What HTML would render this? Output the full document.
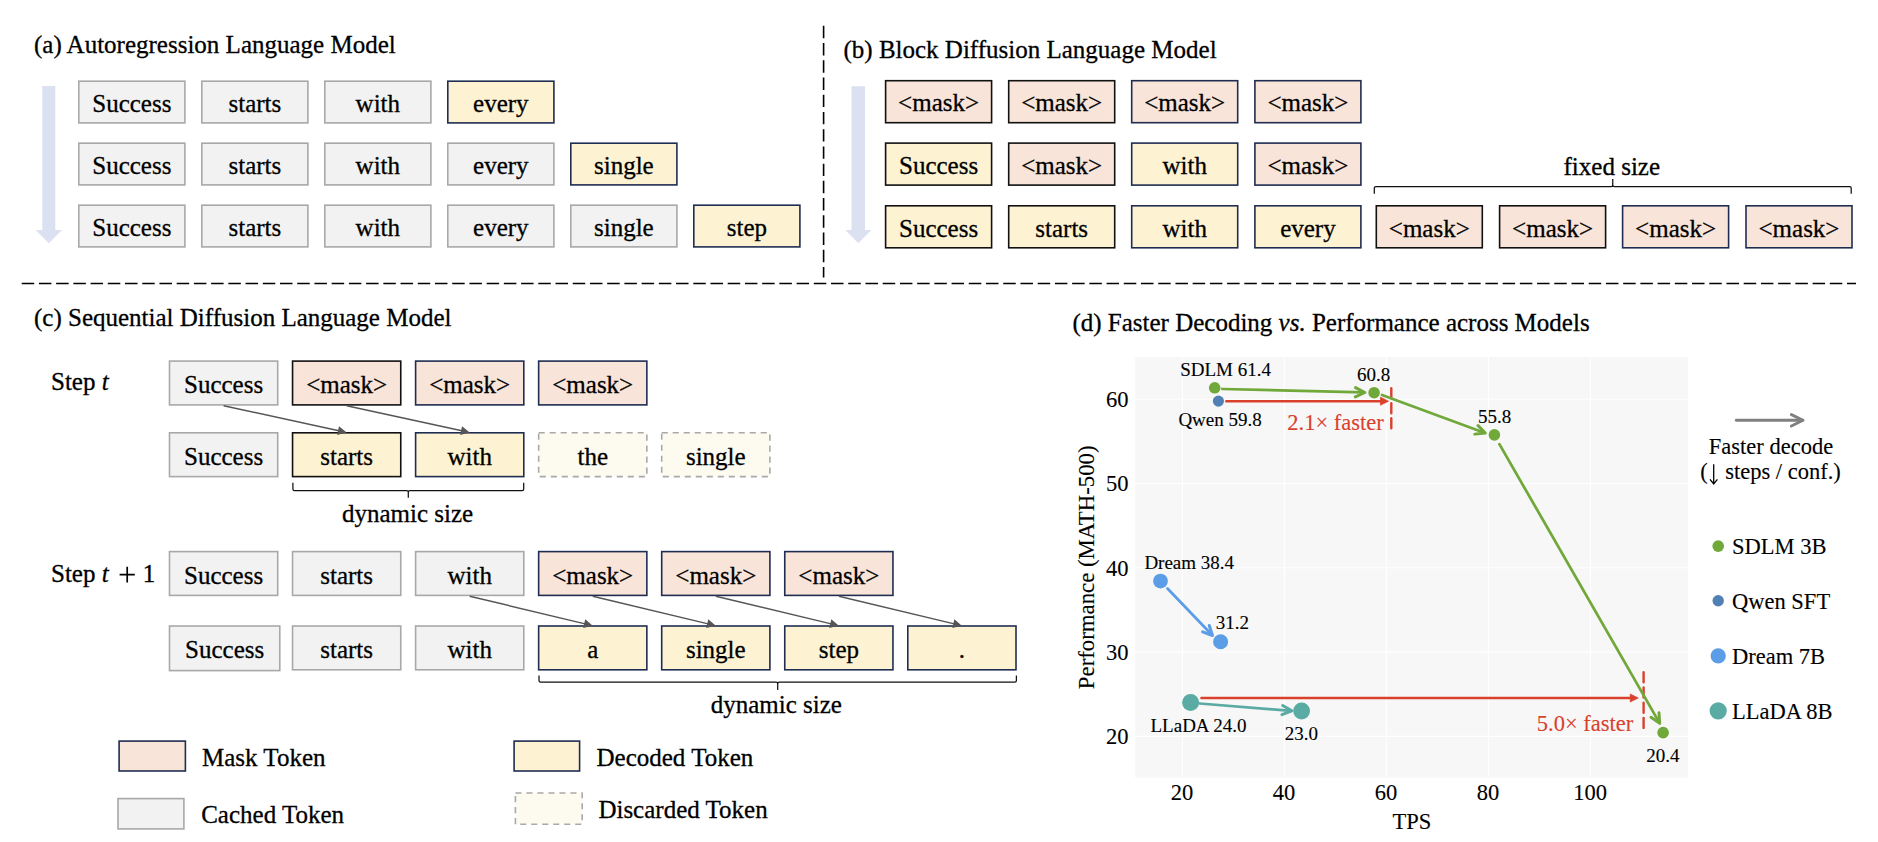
<!DOCTYPE html>
<html><head><meta charset="utf-8"><style>
html,body{margin:0;padding:0;background:#fff;}
body{width:1878px;height:842px;overflow:hidden;font-family:"Liberation Serif", serif;}
svg{display:block;}
</style></head><body>
<svg width="1878" height="842" viewBox="0 0 1878 842" font-family='"Liberation Serif", serif'><text x="34.00" y="53.30" font-size="25" text-anchor="start" fill="#000" stroke="#000" stroke-width="0.3">(a) Autoregression Language Model</text>
<path d="M42.3,86 L55.3,86 L55.3,230 L62,230 L48.85,243.3 L35.7,230 L42.3,230 Z" fill="#dce1f2"/>
<rect x="78.80" y="81.20" width="106.10" height="41.70" fill="#f2f2f2" stroke="#a8a8a8" stroke-width="1.6"/>
<text x="131.85" y="112.35" font-size="25" text-anchor="middle" stroke="#000" stroke-width="0.3">Success</text>
<rect x="201.80" y="81.20" width="106.10" height="41.70" fill="#f2f2f2" stroke="#a8a8a8" stroke-width="1.6"/>
<text x="254.85" y="112.35" font-size="25" text-anchor="middle" stroke="#000" stroke-width="0.3">starts</text>
<rect x="324.80" y="81.20" width="106.10" height="41.70" fill="#f2f2f2" stroke="#a8a8a8" stroke-width="1.6"/>
<text x="377.85" y="112.35" font-size="25" text-anchor="middle" stroke="#000" stroke-width="0.3">with</text>
<rect x="447.80" y="81.20" width="106.10" height="41.70" fill="#fdf2d1" stroke="#1f2d52" stroke-width="1.6"/>
<text x="500.85" y="112.35" font-size="25" text-anchor="middle" stroke="#000" stroke-width="0.3">every</text>
<rect x="78.80" y="143.20" width="106.10" height="41.70" fill="#f2f2f2" stroke="#a8a8a8" stroke-width="1.6"/>
<text x="131.85" y="174.35" font-size="25" text-anchor="middle" stroke="#000" stroke-width="0.3">Success</text>
<rect x="201.80" y="143.20" width="106.10" height="41.70" fill="#f2f2f2" stroke="#a8a8a8" stroke-width="1.6"/>
<text x="254.85" y="174.35" font-size="25" text-anchor="middle" stroke="#000" stroke-width="0.3">starts</text>
<rect x="324.80" y="143.20" width="106.10" height="41.70" fill="#f2f2f2" stroke="#a8a8a8" stroke-width="1.6"/>
<text x="377.85" y="174.35" font-size="25" text-anchor="middle" stroke="#000" stroke-width="0.3">with</text>
<rect x="447.80" y="143.20" width="106.10" height="41.70" fill="#f2f2f2" stroke="#a8a8a8" stroke-width="1.6"/>
<text x="500.85" y="174.35" font-size="25" text-anchor="middle" stroke="#000" stroke-width="0.3">every</text>
<rect x="570.80" y="143.20" width="106.10" height="41.70" fill="#fdf2d1" stroke="#1f2d52" stroke-width="1.6"/>
<text x="623.85" y="174.35" font-size="25" text-anchor="middle" stroke="#000" stroke-width="0.3">single</text>
<rect x="78.80" y="205.20" width="106.10" height="41.70" fill="#f2f2f2" stroke="#a8a8a8" stroke-width="1.6"/>
<text x="131.85" y="236.35" font-size="25" text-anchor="middle" stroke="#000" stroke-width="0.3">Success</text>
<rect x="201.80" y="205.20" width="106.10" height="41.70" fill="#f2f2f2" stroke="#a8a8a8" stroke-width="1.6"/>
<text x="254.85" y="236.35" font-size="25" text-anchor="middle" stroke="#000" stroke-width="0.3">starts</text>
<rect x="324.80" y="205.20" width="106.10" height="41.70" fill="#f2f2f2" stroke="#a8a8a8" stroke-width="1.6"/>
<text x="377.85" y="236.35" font-size="25" text-anchor="middle" stroke="#000" stroke-width="0.3">with</text>
<rect x="447.80" y="205.20" width="106.10" height="41.70" fill="#f2f2f2" stroke="#a8a8a8" stroke-width="1.6"/>
<text x="500.85" y="236.35" font-size="25" text-anchor="middle" stroke="#000" stroke-width="0.3">every</text>
<rect x="570.80" y="205.20" width="106.10" height="41.70" fill="#f2f2f2" stroke="#a8a8a8" stroke-width="1.6"/>
<text x="623.85" y="236.35" font-size="25" text-anchor="middle" stroke="#000" stroke-width="0.3">single</text>
<rect x="693.80" y="205.20" width="106.10" height="41.70" fill="#fdf2d1" stroke="#1f2d52" stroke-width="1.6"/>
<text x="746.85" y="236.35" font-size="25" text-anchor="middle" stroke="#000" stroke-width="0.3">step</text>
<text x="843.50" y="58.10" font-size="25" text-anchor="start" fill="#000" stroke="#000" stroke-width="0.3">(b) Block Diffusion Language Model</text>
<path d="M851.5,86.3 L865,86.3 L865,230 L871.3,230 L858.3,243.3 L845.3,230 L851.5,230 Z" fill="#dce1f2"/>
<rect x="885.60" y="80.70" width="106.00" height="42.00" fill="#f8e4d8" stroke="#111111" stroke-width="1.6"/>
<text x="938.60" y="110.70" font-size="25" text-anchor="middle" stroke="#000" stroke-width="0.3">&lt;mask&gt;</text>
<rect x="1008.70" y="80.70" width="106.00" height="42.00" fill="#f8e4d8" stroke="#111111" stroke-width="1.6"/>
<text x="1061.70" y="110.70" font-size="25" text-anchor="middle" stroke="#000" stroke-width="0.3">&lt;mask&gt;</text>
<rect x="1131.70" y="80.70" width="106.00" height="42.00" fill="#f8e4d8" stroke="#1f2d52" stroke-width="1.6"/>
<text x="1184.70" y="110.70" font-size="25" text-anchor="middle" stroke="#000" stroke-width="0.3">&lt;mask&gt;</text>
<rect x="1254.90" y="80.70" width="106.00" height="42.00" fill="#f8e4d8" stroke="#1f2d52" stroke-width="1.6"/>
<text x="1307.90" y="110.70" font-size="25" text-anchor="middle" stroke="#000" stroke-width="0.3">&lt;mask&gt;</text>
<rect x="885.60" y="143.10" width="106.00" height="42.00" fill="#fdf2d1" stroke="#111111" stroke-width="1.6"/>
<text x="938.60" y="174.10" font-size="25" text-anchor="middle" stroke="#000" stroke-width="0.3">Success</text>
<rect x="1008.70" y="143.10" width="106.00" height="42.00" fill="#f8e4d8" stroke="#111111" stroke-width="1.6"/>
<text x="1061.70" y="174.10" font-size="25" text-anchor="middle" stroke="#000" stroke-width="0.3">&lt;mask&gt;</text>
<rect x="1131.70" y="143.10" width="106.00" height="42.00" fill="#fdf2d1" stroke="#1f2d52" stroke-width="1.6"/>
<text x="1184.70" y="174.10" font-size="25" text-anchor="middle" stroke="#000" stroke-width="0.3">with</text>
<rect x="1254.90" y="143.10" width="106.00" height="42.00" fill="#f8e4d8" stroke="#1f2d52" stroke-width="1.6"/>
<text x="1307.90" y="174.10" font-size="25" text-anchor="middle" stroke="#000" stroke-width="0.3">&lt;mask&gt;</text>
<rect x="885.60" y="205.80" width="106.00" height="42.00" fill="#fdf2d1" stroke="#111111" stroke-width="1.6"/>
<text x="938.60" y="236.80" font-size="25" text-anchor="middle" stroke="#000" stroke-width="0.3">Success</text>
<rect x="1008.70" y="205.80" width="106.00" height="42.00" fill="#fdf2d1" stroke="#111111" stroke-width="1.6"/>
<text x="1061.70" y="236.80" font-size="25" text-anchor="middle" stroke="#000" stroke-width="0.3">starts</text>
<rect x="1131.70" y="205.80" width="106.00" height="42.00" fill="#fdf2d1" stroke="#1f2d52" stroke-width="1.6"/>
<text x="1184.70" y="236.80" font-size="25" text-anchor="middle" stroke="#000" stroke-width="0.3">with</text>
<rect x="1254.90" y="205.80" width="106.00" height="42.00" fill="#fdf2d1" stroke="#1f2d52" stroke-width="1.6"/>
<text x="1307.90" y="236.80" font-size="25" text-anchor="middle" stroke="#000" stroke-width="0.3">every</text>
<rect x="1376.30" y="205.80" width="106.00" height="42.00" fill="#f8e4d8" stroke="#111111" stroke-width="1.6"/>
<text x="1429.30" y="236.80" font-size="25" text-anchor="middle" stroke="#000" stroke-width="0.3">&lt;mask&gt;</text>
<rect x="1499.60" y="205.80" width="106.00" height="42.00" fill="#f8e4d8" stroke="#111111" stroke-width="1.6"/>
<text x="1552.60" y="236.80" font-size="25" text-anchor="middle" stroke="#000" stroke-width="0.3">&lt;mask&gt;</text>
<rect x="1622.60" y="205.80" width="106.00" height="42.00" fill="#f8e4d8" stroke="#1f2d52" stroke-width="1.6"/>
<text x="1675.60" y="236.80" font-size="25" text-anchor="middle" stroke="#000" stroke-width="0.3">&lt;mask&gt;</text>
<rect x="1746.00" y="205.80" width="106.00" height="42.00" fill="#f8e4d8" stroke="#1f2d52" stroke-width="1.6"/>
<text x="1799.00" y="236.80" font-size="25" text-anchor="middle" stroke="#000" stroke-width="0.3">&lt;mask&gt;</text>
<path d="M1374.3,193.7 L1374.3,188.1 Q1374.3,186.5 1375.8999999999999,186.5 L1611.15,186.5 Q1612.75,186.5 1612.75,184.9 L1612.75,179 M1612.75,184.9 Q1612.75,186.5 1614.35,186.5 L1849.6000000000001,186.5 Q1851.2,186.5 1851.2,188.1 L1851.2,193.7" fill="none" stroke="#111" stroke-width="1.25"/>
<text x="1611.80" y="175.10" font-size="25" text-anchor="middle" fill="#000" stroke="#000" stroke-width="0.3">fixed size</text>
<line x1="823.6" y1="25.8" x2="823.6" y2="277.6" stroke="#000" stroke-width="1.6" stroke-dasharray="12.4 4.83"/>
<line x1="21.7" y1="283.5" x2="1856" y2="283.5" stroke="#000" stroke-width="1.7" stroke-dasharray="12.5 4.72"/>
<text x="34.00" y="325.90" font-size="25" text-anchor="start" fill="#000" stroke="#000" stroke-width="0.3">(c) Sequential Diffusion Language Model</text>
<text x="51.00" y="390.20" font-size="25" text-anchor="start" fill="#000" stroke="#000" stroke-width="0.3">Step <tspan font-style="italic">t</tspan></text>
<text x="51.00" y="582.20" font-size="25" text-anchor="start" fill="#000" stroke="#000" stroke-width="0.3">Step <tspan font-style="italic">t</tspan></text>
<path d="M119.6,574.7 L134.8,574.7 M127.2,566.8 L127.2,582.6" stroke="#000" stroke-width="1.7"/>
<text x="149.00" y="582.20" font-size="25" text-anchor="middle" fill="#000" stroke="#000" stroke-width="0.3">1</text>
<rect x="169.50" y="361.10" width="108.20" height="43.80" fill="#f2f2f2" stroke="#a8a8a8" stroke-width="1.6"/>
<text x="223.60" y="393.00" font-size="25" text-anchor="middle" stroke="#000" stroke-width="0.3">Success</text>
<rect x="292.55" y="361.10" width="108.20" height="43.80" fill="#f8e4d8" stroke="#111111" stroke-width="1.6"/>
<text x="346.65" y="393.00" font-size="25" text-anchor="middle" stroke="#000" stroke-width="0.3">&lt;mask&gt;</text>
<rect x="415.60" y="361.10" width="108.20" height="43.80" fill="#f8e4d8" stroke="#1f2d52" stroke-width="1.6"/>
<text x="469.70" y="393.00" font-size="25" text-anchor="middle" stroke="#000" stroke-width="0.3">&lt;mask&gt;</text>
<rect x="538.65" y="361.10" width="108.20" height="43.80" fill="#f8e4d8" stroke="#1f2d52" stroke-width="1.6"/>
<text x="592.75" y="393.00" font-size="25" text-anchor="middle" stroke="#000" stroke-width="0.3">&lt;mask&gt;</text>
<rect x="169.50" y="432.80" width="108.20" height="43.80" fill="#f2f2f2" stroke="#a8a8a8" stroke-width="1.6"/>
<text x="223.60" y="464.70" font-size="25" text-anchor="middle" stroke="#000" stroke-width="0.3">Success</text>
<rect x="292.55" y="432.80" width="108.20" height="43.80" fill="#fdf2d1" stroke="#111111" stroke-width="1.6"/>
<text x="346.65" y="464.70" font-size="25" text-anchor="middle" stroke="#000" stroke-width="0.3">starts</text>
<rect x="415.60" y="432.80" width="108.20" height="43.80" fill="#fdf2d1" stroke="#1f2d52" stroke-width="1.6"/>
<text x="469.70" y="464.70" font-size="25" text-anchor="middle" stroke="#000" stroke-width="0.3">with</text>
<rect x="538.65" y="432.80" width="108.20" height="43.80" fill="#fdfaef" stroke="#a9a9a9" stroke-width="1.6" stroke-dasharray="6.1 4.9"/>
<text x="592.75" y="464.70" font-size="25" text-anchor="middle" stroke="#000" stroke-width="0.3">the</text>
<rect x="661.70" y="432.80" width="108.20" height="43.80" fill="#fdfaef" stroke="#a9a9a9" stroke-width="1.6" stroke-dasharray="6.1 4.9"/>
<text x="715.80" y="464.70" font-size="25" text-anchor="middle" stroke="#000" stroke-width="0.3">single</text>
<rect x="169.50" y="551.60" width="108.20" height="43.80" fill="#f2f2f2" stroke="#a8a8a8" stroke-width="1.6"/>
<text x="223.60" y="583.50" font-size="25" text-anchor="middle" stroke="#000" stroke-width="0.3">Success</text>
<rect x="292.55" y="551.60" width="108.20" height="43.80" fill="#f2f2f2" stroke="#a8a8a8" stroke-width="1.6"/>
<text x="346.65" y="583.50" font-size="25" text-anchor="middle" stroke="#000" stroke-width="0.3">starts</text>
<rect x="415.60" y="551.60" width="108.20" height="43.80" fill="#f2f2f2" stroke="#a8a8a8" stroke-width="1.6"/>
<text x="469.70" y="583.50" font-size="25" text-anchor="middle" stroke="#000" stroke-width="0.3">with</text>
<rect x="538.65" y="551.60" width="108.20" height="43.80" fill="#f8e4d8" stroke="#1f2d52" stroke-width="1.6"/>
<text x="592.75" y="583.50" font-size="25" text-anchor="middle" stroke="#000" stroke-width="0.3">&lt;mask&gt;</text>
<rect x="661.70" y="551.60" width="108.20" height="43.80" fill="#f8e4d8" stroke="#1f2d52" stroke-width="1.6"/>
<text x="715.80" y="583.50" font-size="25" text-anchor="middle" stroke="#000" stroke-width="0.3">&lt;mask&gt;</text>
<rect x="784.75" y="551.60" width="108.20" height="43.80" fill="#f8e4d8" stroke="#1f2d52" stroke-width="1.6"/>
<text x="838.85" y="583.50" font-size="25" text-anchor="middle" stroke="#000" stroke-width="0.3">&lt;mask&gt;</text>
<rect x="169.50" y="626.00" width="110.30" height="44.60" fill="#f2f2f2" stroke="#a8a8a8" stroke-width="1.6"/>
<text x="224.65" y="658.30" font-size="25" text-anchor="middle" stroke="#000" stroke-width="0.3">Success</text>
<rect x="292.55" y="626.00" width="108.20" height="43.80" fill="#f2f2f2" stroke="#a8a8a8" stroke-width="1.6"/>
<text x="346.65" y="657.90" font-size="25" text-anchor="middle" stroke="#000" stroke-width="0.3">starts</text>
<rect x="415.60" y="626.00" width="108.20" height="43.80" fill="#f2f2f2" stroke="#a8a8a8" stroke-width="1.6"/>
<text x="469.70" y="657.90" font-size="25" text-anchor="middle" stroke="#000" stroke-width="0.3">with</text>
<rect x="538.65" y="626.00" width="108.20" height="43.80" fill="#fdf2d1" stroke="#1f2d52" stroke-width="1.6"/>
<text x="592.75" y="657.90" font-size="25" text-anchor="middle" stroke="#000" stroke-width="0.3">a</text>
<rect x="661.70" y="626.00" width="108.20" height="43.80" fill="#fdf2d1" stroke="#1f2d52" stroke-width="1.6"/>
<text x="715.80" y="657.90" font-size="25" text-anchor="middle" stroke="#000" stroke-width="0.3">single</text>
<rect x="784.75" y="626.00" width="108.20" height="43.80" fill="#fdf2d1" stroke="#1f2d52" stroke-width="1.6"/>
<text x="838.85" y="657.90" font-size="25" text-anchor="middle" stroke="#000" stroke-width="0.3">step</text>
<rect x="907.80" y="626.00" width="108.20" height="43.80" fill="#fdf2d1" stroke="#1f2d52" stroke-width="1.6"/>
<text x="961.90" y="657.90" font-size="25" text-anchor="middle" stroke="#000" stroke-width="0.3">.</text>
<line x1="223.60" y1="405.70" x2="340.01" y2="431.05" stroke="#555" stroke-width="1.45"/>
<path d="M346.65,432.50 L337.12,434.93 L338.99,426.33 Z" fill="#555"/>
<line x1="346.65" y1="405.70" x2="463.06" y2="431.05" stroke="#555" stroke-width="1.45"/>
<path d="M469.70,432.50 L460.17,434.93 L462.04,426.33 Z" fill="#555"/>
<line x1="469.70" y1="596.20" x2="586.14" y2="624.11" stroke="#555" stroke-width="1.45"/>
<path d="M592.75,625.70 L583.17,627.93 L585.22,619.37 Z" fill="#555"/>
<line x1="592.75" y1="596.20" x2="709.19" y2="624.11" stroke="#555" stroke-width="1.45"/>
<path d="M715.80,625.70 L706.22,627.93 L708.27,619.37 Z" fill="#555"/>
<line x1="715.80" y1="596.20" x2="832.24" y2="624.11" stroke="#555" stroke-width="1.45"/>
<path d="M838.85,625.70 L829.27,627.93 L831.32,619.37 Z" fill="#555"/>
<line x1="838.85" y1="596.20" x2="955.29" y2="624.11" stroke="#555" stroke-width="1.45"/>
<path d="M961.90,625.70 L952.32,627.93 L954.37,619.37 Z" fill="#555"/>
<path d="M292.9,482.7 L292.9,488.9 Q292.9,490.5 294.5,490.5 L406.7,490.5 Q408.3,490.5 408.3,492.1 L408.3,497.7 M408.3,492.1 Q408.3,490.5 409.90000000000003,490.5 L522.1,490.5 Q523.7,490.5 523.7,488.9 L523.7,482.7" fill="none" stroke="#111" stroke-width="1.25"/>
<text x="407.60" y="521.50" font-size="25" text-anchor="middle" fill="#000" stroke="#000" stroke-width="0.3">dynamic size</text>
<path d="M539.0,675.4 L539.0,680.6 Q539.0,682.2 540.6,682.2 L776.1,682.2 Q777.7,682.2 777.7,683.8000000000001 L777.7,690.0 M777.7,683.8000000000001 Q777.7,682.2 779.3000000000001,682.2 L1014.8,682.2 Q1016.4,682.2 1016.4,680.6 L1016.4,675.4" fill="none" stroke="#111" stroke-width="1.25"/>
<text x="776.30" y="713.00" font-size="25" text-anchor="middle" fill="#000" stroke="#000" stroke-width="0.3">dynamic size</text>
<rect x="119.10" y="741.10" width="66.30" height="29.90" fill="#f8e4d8" stroke="#1f2d52" stroke-width="1.6"/>
<text x="202.00" y="766.00" font-size="25" text-anchor="start" fill="#000" stroke="#000" stroke-width="0.3">Mask Token</text>
<rect x="118.00" y="798.60" width="65.90" height="30.30" fill="#f2f2f2" stroke="#a8a8a8" stroke-width="1.6"/>
<text x="201.20" y="822.80" font-size="25" text-anchor="start" fill="#000" stroke="#000" stroke-width="0.3">Cached Token</text>
<rect x="514.10" y="741.10" width="65.50" height="29.90" fill="#fdf2d1" stroke="#1f2d52" stroke-width="1.6"/>
<text x="596.50" y="766.00" font-size="25" text-anchor="start" fill="#000" stroke="#000" stroke-width="0.3">Decoded Token</text>
<rect x="515.40" y="793.00" width="66.80" height="31.30" fill="#fdfaef" stroke="#a9a9a9" stroke-width="1.6" stroke-dasharray="6.1 4.9"/>
<text x="598.40" y="817.80" font-size="25" text-anchor="start" fill="#000" stroke="#000" stroke-width="0.3">Discarded Token</text>
<text x="1072.40" y="330.90" font-size="25" text-anchor="start" fill="#000" stroke="#000" stroke-width="0.3">(d) Faster Decoding <tspan font-style="italic">vs.</tspan> Performance across Models</text>
<rect x="1135.2" y="357.1" width="552.8" height="420.5" fill="#f7f7f7"/>
<line x1="1182.40" y1="357.1" x2="1182.40" y2="777.6" stroke="#ffffff" stroke-width="1.1"/>
<line x1="1284.40" y1="357.1" x2="1284.40" y2="777.6" stroke="#ffffff" stroke-width="1.1"/>
<line x1="1386.40" y1="357.1" x2="1386.40" y2="777.6" stroke="#ffffff" stroke-width="1.1"/>
<line x1="1488.40" y1="357.1" x2="1488.40" y2="777.6" stroke="#ffffff" stroke-width="1.1"/>
<line x1="1590.40" y1="357.1" x2="1590.40" y2="777.6" stroke="#ffffff" stroke-width="1.1"/>
<line x1="1135.2" y1="736.36" x2="1688.0" y2="736.36" stroke="#ffffff" stroke-width="1.1"/>
<line x1="1135.2" y1="652.09" x2="1688.0" y2="652.09" stroke="#ffffff" stroke-width="1.1"/>
<line x1="1135.2" y1="567.82" x2="1688.0" y2="567.82" stroke="#ffffff" stroke-width="1.1"/>
<line x1="1135.2" y1="483.55" x2="1688.0" y2="483.55" stroke="#ffffff" stroke-width="1.1"/>
<line x1="1135.2" y1="399.28" x2="1688.0" y2="399.28" stroke="#ffffff" stroke-width="1.1"/>
<text x="1182.00" y="800.10" font-size="22.5" text-anchor="middle" fill="#000" stroke="#000" stroke-width="0.12">20</text>
<text x="1284.00" y="800.10" font-size="22.5" text-anchor="middle" fill="#000" stroke="#000" stroke-width="0.12">40</text>
<text x="1386.00" y="800.10" font-size="22.5" text-anchor="middle" fill="#000" stroke="#000" stroke-width="0.12">60</text>
<text x="1488.00" y="800.10" font-size="22.5" text-anchor="middle" fill="#000" stroke="#000" stroke-width="0.12">80</text>
<text x="1590.00" y="800.10" font-size="22.5" text-anchor="middle" fill="#000" stroke="#000" stroke-width="0.12">100</text>
<text x="1128.60" y="744.06" font-size="22.5" text-anchor="end" fill="#000" stroke="#000" stroke-width="0.12">20</text>
<text x="1128.60" y="659.79" font-size="22.5" text-anchor="end" fill="#000" stroke="#000" stroke-width="0.12">30</text>
<text x="1128.60" y="575.52" font-size="22.5" text-anchor="end" fill="#000" stroke="#000" stroke-width="0.12">40</text>
<text x="1128.60" y="491.25" font-size="22.5" text-anchor="end" fill="#000" stroke="#000" stroke-width="0.12">50</text>
<text x="1128.60" y="406.98" font-size="22.5" text-anchor="end" fill="#000" stroke="#000" stroke-width="0.12">60</text>
<text x="1411.90" y="828.70" font-size="22.5" text-anchor="middle" fill="#000" stroke="#000" stroke-width="0.12">TPS</text>
<text transform="translate(1094.4,567.3) rotate(-90)" font-size="22.8" text-anchor="middle" stroke="#000" stroke-width="0.12">Performance (MATH-500)</text>
<line x1="1226.30" y1="401.20" x2="1381.40" y2="401.20" stroke="#d9412d" stroke-width="2.4" stroke-linecap="round"/>
<path d="M1388.60,401.20 L1380.40,405.30 L1380.40,397.10 Z" fill="#d9412d" stroke="#d9412d" stroke-width="0.6" stroke-linejoin="round"/>
<line x1="1391.3" y1="388.2" x2="1391.3" y2="428.3" stroke="#d9412d" stroke-width="2.4" stroke-dasharray="10 5.05" stroke-linecap="round"/>
<text x="1335.50" y="429.70" font-size="22.5" text-anchor="middle" fill="#d9412d" stroke="#d9412d" stroke-width="0.12">2.1× faster</text>
<line x1="1201.40" y1="698.00" x2="1631.20" y2="698.00" stroke="#d9412d" stroke-width="2.4" stroke-linecap="round"/>
<path d="M1638.40,698.00 L1630.20,702.10 L1630.20,693.90 Z" fill="#d9412d" stroke="#d9412d" stroke-width="0.6" stroke-linejoin="round"/>
<line x1="1643.6" y1="672.3" x2="1643.6" y2="727.9" stroke="#d9412d" stroke-width="2.4" stroke-dasharray="10 5.2" stroke-linecap="round"/>
<text x="1585.00" y="730.60" font-size="22.5" text-anchor="middle" fill="#d9412d" stroke="#d9412d" stroke-width="0.12">5.0× faster</text>
<line x1="1222.30" y1="389.00" x2="1363.90" y2="392.48" stroke="#70a83a" stroke-width="2.75" stroke-linecap="round"/>
<path d="M1355.29,396.87 L1364.90,392.50 L1355.52,387.67" fill="none" stroke="#70a83a" stroke-width="3.0" stroke-linecap="round" stroke-linejoin="round"/>
<line x1="1382.00" y1="395.00" x2="1484.36" y2="432.75" stroke="#70a83a" stroke-width="2.75" stroke-linecap="round"/>
<path d="M1474.80,434.13 L1485.30,433.10 L1477.98,425.50" fill="none" stroke="#70a83a" stroke-width="3.0" stroke-linecap="round" stroke-linejoin="round"/>
<line x1="1499.40" y1="444.10" x2="1659.20" y2="722.43" stroke="#70a83a" stroke-width="2.75" stroke-linecap="round"/>
<path d="M1650.98,717.35 L1659.70,723.30 L1658.96,712.77" fill="none" stroke="#70a83a" stroke-width="3.0" stroke-linecap="round" stroke-linejoin="round"/>
<line x1="1167.50" y1="588.50" x2="1211.81" y2="634.78" stroke="#5b9de6" stroke-width="2.75" stroke-linecap="round"/>
<path d="M1202.61,631.82 L1212.50,635.50 L1209.25,625.46" fill="none" stroke="#5b9de6" stroke-width="3.0" stroke-linecap="round" stroke-linejoin="round"/>
<line x1="1199.70" y1="703.50" x2="1290.80" y2="710.82" stroke="#5aaba3" stroke-width="2.75" stroke-linecap="round"/>
<path d="M1281.96,714.72 L1291.80,710.90 L1282.70,705.55" fill="none" stroke="#5aaba3" stroke-width="3.0" stroke-linecap="round" stroke-linejoin="round"/>
<circle cx="1214.7" cy="387.8" r="5.8" fill="#70a83a"/>
<circle cx="1374.1" cy="392.7" r="5.8" fill="#70a83a"/>
<circle cx="1494.4" cy="434.9" r="5.8" fill="#70a83a"/>
<circle cx="1663.1" cy="732.6" r="5.8" fill="#70a83a"/>
<circle cx="1218.4" cy="401.1" r="5.6" fill="#5080b4"/>
<circle cx="1160.5" cy="581.1" r="7.4" fill="#5b9de6"/>
<circle cx="1220.6" cy="641.8" r="7.5" fill="#5b9de6"/>
<circle cx="1190.6" cy="702.4" r="8.5" fill="#5aaba3"/>
<circle cx="1301.6" cy="711.0" r="8.4" fill="#5aaba3"/>
<text x="1180.20" y="375.60" font-size="19" text-anchor="start" fill="#000" stroke="#000" stroke-width="0.12">SDLM 61.4</text>
<text x="1373.70" y="380.60" font-size="19" text-anchor="middle" fill="#000" stroke="#000" stroke-width="0.12">60.8</text>
<text x="1178.40" y="426.10" font-size="19" text-anchor="start" fill="#000" stroke="#000" stroke-width="0.12">Qwen 59.8</text>
<text x="1494.60" y="422.60" font-size="19" text-anchor="middle" fill="#000" stroke="#000" stroke-width="0.12">55.8</text>
<text x="1144.40" y="568.70" font-size="19" text-anchor="start" fill="#000" stroke="#000" stroke-width="0.12">Dream 38.4</text>
<text x="1232.40" y="628.60" font-size="19" text-anchor="middle" fill="#000" stroke="#000" stroke-width="0.12">31.2</text>
<text x="1150.50" y="731.90" font-size="19" text-anchor="start" fill="#000" stroke="#000" stroke-width="0.12">LLaDA 24.0</text>
<text x="1301.40" y="739.80" font-size="19" text-anchor="middle" fill="#000" stroke="#000" stroke-width="0.12">23.0</text>
<text x="1662.80" y="762.40" font-size="19" text-anchor="middle" fill="#000" stroke="#000" stroke-width="0.12">20.4</text>
<line x1="1736.3" y1="420.3" x2="1802.5" y2="420.3" stroke="#808080" stroke-width="2.9" stroke-linecap="round"/>
<path d="M1791.4,414.6 L1803.0,420.3 L1791.4,426.0" fill="none" stroke="#808080" stroke-width="2.9" stroke-linecap="round" stroke-linejoin="round"/>
<text x="1771.00" y="453.60" font-size="22.5" text-anchor="middle" fill="#000" stroke="#000" stroke-width="0.12">Faster decode</text>
<text x="1700.20" y="478.60" font-size="22.5" text-anchor="start" fill="#000" stroke="#000" stroke-width="0.12">(</text>
<path d="M1713.7,464.3 L1713.7,483.3 M1710.0,479.4 L1713.7,484.0 L1717.4,479.4" fill="none" stroke="#000" stroke-width="1.3"/>
<text x="1725.20" y="478.60" font-size="22.5" text-anchor="start" fill="#000" stroke="#000" stroke-width="0.12">steps / conf.)</text>
<circle cx="1718.2" cy="546.1" r="5.8" fill="#70a83a"/>
<text x="1732.00" y="554.30" font-size="22.5" text-anchor="start" fill="#000" stroke="#000" stroke-width="0.12">SDLM 3B</text>
<circle cx="1718.2" cy="600.8" r="5.7" fill="#5080b4"/>
<text x="1732.00" y="609.20" font-size="22.5" text-anchor="start" fill="#000" stroke="#000" stroke-width="0.12">Qwen SFT</text>
<circle cx="1718.2" cy="655.9" r="7.6" fill="#5b9de6"/>
<text x="1732.00" y="663.90" font-size="22.5" text-anchor="start" fill="#000" stroke="#000" stroke-width="0.12">Dream 7B</text>
<circle cx="1718.2" cy="710.8" r="8.6" fill="#5aaba3"/>
<text x="1732.00" y="719.00" font-size="22.5" text-anchor="start" fill="#000" stroke="#000" stroke-width="0.12">LLaDA 8B</text></svg>
</body></html>
